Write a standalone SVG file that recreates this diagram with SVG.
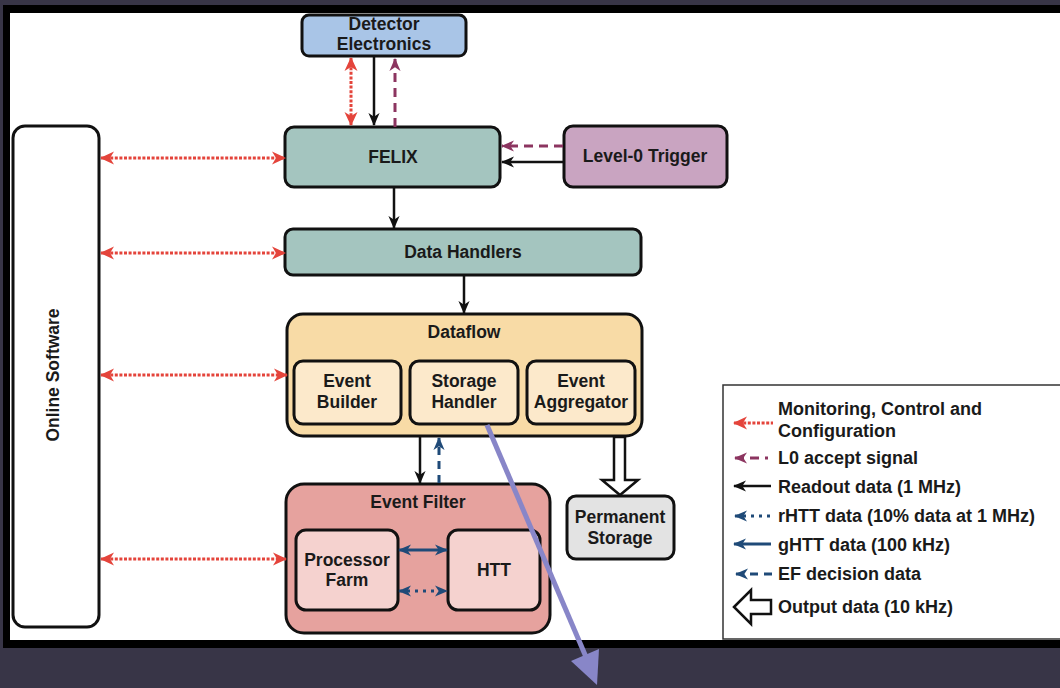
<svg xmlns="http://www.w3.org/2000/svg" width="1060" height="688" viewBox="0 0 1060 688">
<style>
.box{stroke:#111;stroke-width:3}
.t{font-family:"Liberation Sans",Arial,sans-serif;font-weight:bold;font-size:17.5px;fill:#1a1a1a;text-anchor:middle}
.lt{font-family:"Liberation Sans",Arial,sans-serif;font-weight:bold;font-size:18px;fill:#1a1a1a}
.red{stroke:#e4443b;stroke-width:3;stroke-dasharray:3 1.6;fill:none}
.pur{stroke:#8c3560;stroke-width:3;stroke-dasharray:9 6;fill:none}
.blk{stroke:#111;stroke-width:2.5;fill:none}
.bl{stroke:#1f4a78;stroke-width:3;fill:none}
.bldot{stroke:#1f4a78;stroke-width:3;stroke-dasharray:3 5;fill:none}
.bldash{stroke:#1f4a78;stroke-width:3;stroke-dasharray:8 6;fill:none}
</style>
<defs>
<marker id="mr" viewBox="0 0 14 14" markerWidth="14" markerHeight="14" refX="13" refY="7" orient="auto-start-reverse" markerUnits="userSpaceOnUse"><path d="M0,0.5 L14,7 L0,13.5 L4,7 z" fill="#e4443b"/></marker>
<marker id="mp" viewBox="0 0 14 14" markerWidth="13" markerHeight="13" refX="13" refY="7" orient="auto-start-reverse" markerUnits="userSpaceOnUse"><path d="M0,1 L14,7 L0,13 L4,7 z" fill="#8c3560"/></marker>
<marker id="mk" viewBox="0 0 14 14" markerWidth="13" markerHeight="13" refX="13" refY="7" orient="auto-start-reverse" markerUnits="userSpaceOnUse"><path d="M0,1 L14,7 L0,13 L4,7 z" fill="#111"/></marker>
<marker id="mb" viewBox="0 0 14 14" markerWidth="13" markerHeight="13" refX="13" refY="7" orient="auto-start-reverse" markerUnits="userSpaceOnUse"><path d="M0,1 L14,7 L0,13 L4,7 z" fill="#1f4a78"/></marker>
</defs>
<rect x="0" y="0" width="1060" height="688" fill="#383547"/>
<rect x="3" y="5" width="1070" height="643" fill="#000"/>
<rect x="10" y="13" width="1060" height="627" fill="#fff"/>

<g id="online-software">
<rect class="box" x="13" y="126" width="86" height="501" rx="12" fill="#fff"/>
<text class="t" transform="translate(59,375) rotate(-90)">Online Software</text>
</g>
<g id="detector-electronics">
<rect class="box" x="302" y="15" width="164" height="41" rx="7" fill="#a9c5e7"/>
<text class="t" x="384" y="30">Detector</text>
<text class="t" x="384" y="50">Electronics</text>
</g>
<g id="felix">
<rect class="box" x="285" y="127" width="215" height="60" rx="9" fill="#a4c5bf"/>
<text class="t" x="393" y="163">FELIX</text>
</g>
<g id="level0-trigger">
<rect class="box" x="564" y="126" width="163" height="61" rx="9" fill="#c9a4c1"/>
<text class="t" x="645" y="162">Level-0 Trigger</text>
</g>
<g id="data-handlers">
<rect class="box" x="285" y="229" width="356" height="46" rx="8" fill="#a4c5bf"/>
<text class="t" x="463" y="258">Data Handlers</text>
</g>
<g id="dataflow">
<rect class="box" x="287" y="314" width="355" height="122" rx="16" fill="#f8dba6"/>
<text class="t" x="464" y="338">Dataflow</text>
<g id="event-builder">
<rect class="box" x="294" y="361" width="107" height="63" rx="9" fill="#fce9cb"/>
<text class="t" x="347" y="387">Event</text>
<text class="t" x="347" y="408">Builder</text>
</g>
<g id="storage-handler">
<rect class="box" x="410" y="361" width="108" height="63" rx="9" fill="#fce9cb"/>
<text class="t" x="464" y="387">Storage</text>
<text class="t" x="464" y="408">Handler</text>
</g>
<g id="event-aggregator">
<rect class="box" x="527" y="361" width="108" height="63" rx="9" fill="#fce9cb"/>
<text class="t" x="581" y="387">Event</text>
<text class="t" x="581" y="408">Aggregator</text>
</g>
</g>
<g id="event-filter">
<rect class="box" x="286" y="484" width="264" height="149" rx="18" fill="#e6a29e"/>
<text class="t" x="418" y="508">Event Filter</text>
<g id="processor-farm">
<rect class="box" x="296" y="530" width="102" height="80" rx="10" fill="#f5d2cf"/>
<text class="t" x="347" y="566">Processor</text>
<text class="t" x="347" y="586">Farm</text>
</g>
<g id="htt">
<rect class="box" x="448" y="530" width="92" height="80" rx="10" fill="#f5d2cf"/>
<text class="t" x="494" y="576">HTT</text>
</g>
</g>
<g id="permanent-storage">
<rect class="box" x="567" y="496" width="107" height="63" rx="9" fill="#e3e3e3"/>
<text class="t" x="620" y="523">Permanent</text>
<text class="t" x="620" y="544">Storage</text>
</g>

<g id="connectors">
<line class="red" x1="351" y1="58" x2="351" y2="125" marker-start="url(#mr)" marker-end="url(#mr)"/>
<line class="blk" x1="374" y1="56" x2="374" y2="125" marker-end="url(#mk)"/>
<line class="pur" x1="395" y1="127" x2="395" y2="59" marker-end="url(#mp)"/>
<line class="red" x1="101" y1="158" x2="285" y2="158" marker-start="url(#mr)" marker-end="url(#mr)"/>
<line class="red" x1="101" y1="253" x2="285" y2="253" marker-start="url(#mr)" marker-end="url(#mr)"/>
<line class="red" x1="101" y1="375" x2="287" y2="375" marker-start="url(#mr)" marker-end="url(#mr)"/>
<line class="red" x1="101" y1="559" x2="286" y2="559" marker-start="url(#mr)" marker-end="url(#mr)"/>
<line class="pur" x1="563" y1="146" x2="502" y2="146" marker-end="url(#mp)"/>
<line class="blk" x1="563" y1="162" x2="502" y2="162" marker-end="url(#mk)"/>
<line class="blk" x1="394" y1="188" x2="394" y2="228" marker-end="url(#mk)"/>
<line class="blk" x1="464" y1="276" x2="464" y2="313" marker-end="url(#mk)"/>
<line class="blk" x1="420" y1="437" x2="420" y2="483" marker-end="url(#mk)"/>
<line class="bldash" x1="439" y1="483" x2="439" y2="438" marker-end="url(#mb)"/>
<line class="bl" x1="399" y1="550" x2="447" y2="550" marker-start="url(#mb)" marker-end="url(#mb)"/>
<line class="bldot" x1="399" y1="591" x2="447" y2="591" marker-start="url(#mb)" marker-end="url(#mb)"/>
<polygon points="614,437 625,437 625,480 638,480 620,495 602,480 614,480" fill="#fff" stroke="#111" stroke-width="2.5" stroke-linejoin="miter"/>
</g>

<g id="legend">
<rect x="723" y="385" width="345" height="254" fill="#fff" stroke="#333" stroke-width="1.5"/>
<line class="red" x1="734" y1="423" x2="773" y2="423" marker-start="url(#mr)"/>
<line class="pur" x1="735" y1="458" x2="768" y2="458" marker-start="url(#mp)" stroke-dasharray="7 6"/>
<line class="blk" x1="734" y1="486" x2="771" y2="486" marker-start="url(#mk)"/>
<line class="bldot" x1="735" y1="516" x2="771" y2="516" marker-start="url(#mb)"/>
<line class="bl" x1="734" y1="544" x2="771" y2="544" marker-start="url(#mb)"/>
<line class="bldash" x1="736" y1="574" x2="774" y2="574" marker-start="url(#mb)" stroke-dasharray="6 6"/>
<polygon points="734,607 751,590 751,600 771,600 771,614 751,614 751,624" fill="#fff" stroke="#111" stroke-width="2.5"/>
<text class="lt" x="778" y="415">Monitoring, Control and</text>
<text class="lt" x="778" y="437">Configuration</text>
<text class="lt" x="778" y="464">L0 accept signal</text>
<text class="lt" x="778" y="493">Readout data (1 MHz)</text>
<text class="lt" x="778" y="522">rHTT data (10% data at 1 MHz)</text>
<text class="lt" x="778" y="551">gHTT data (100 kHz)</text>
<text class="lt" x="778" y="580">EF decision data</text>
<text class="lt" x="778" y="613">Output data (10 kHz)</text>
</g>

<g id="overlay-arrow">
<line x1="487" y1="425" x2="586" y2="657" stroke="#8886c8" stroke-width="5"/>
<polygon points="597,685 599,649 571,661" fill="#8886c8"/>
</g>
</svg>
